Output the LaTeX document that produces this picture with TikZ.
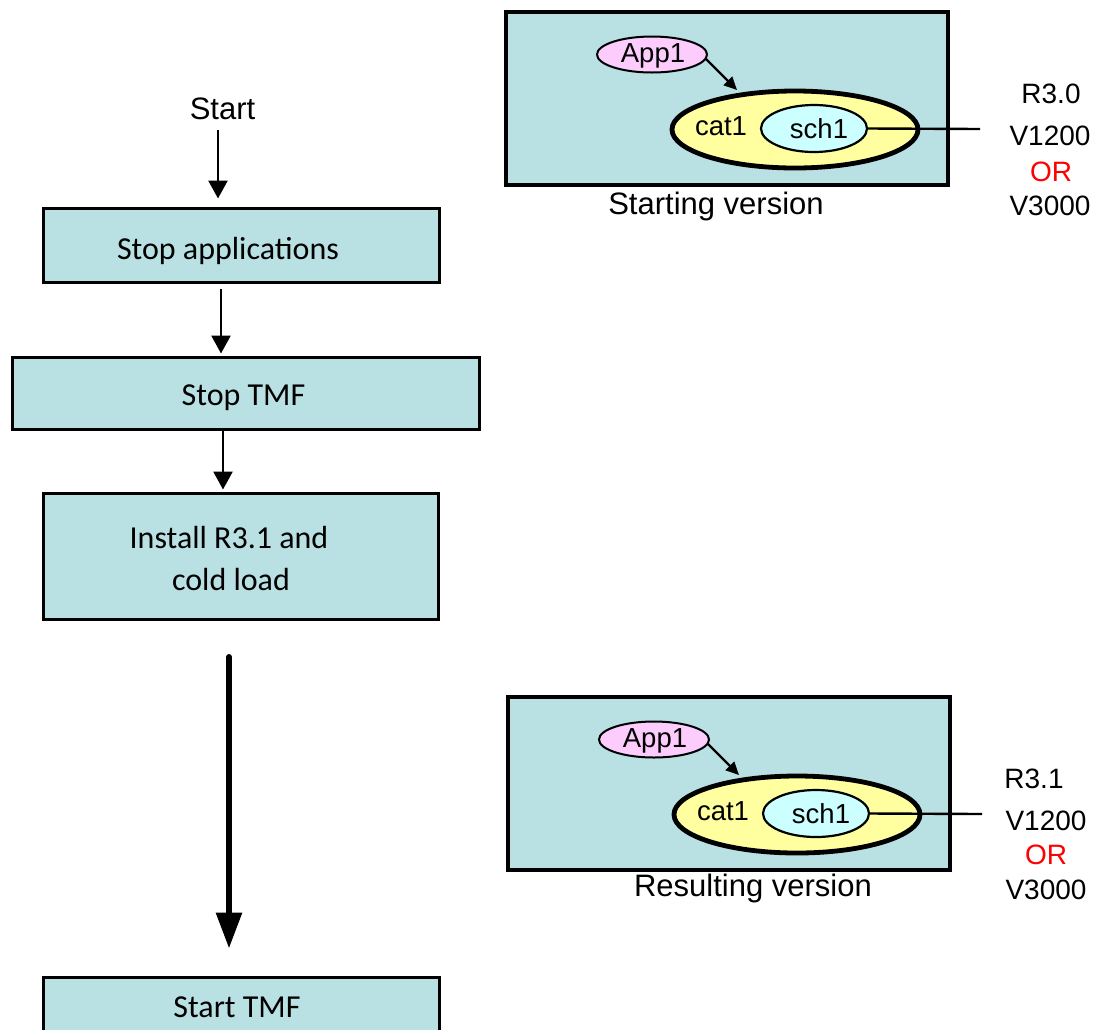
\documentclass[tikz,border=0pt]{standalone}
\usepackage{fontspec}
\setmainfont{Liberation Sans}
\newfontfamily\calibri{Carlito}
\usetikzlibrary{arrows.meta,shapes.geometric}

\definecolor{boxfill}{RGB}{185,224,227}
\definecolor{appfill}{RGB}{252,204,252}
\definecolor{catfill}{RGB}{255,255,160}
\definecolor{schfill}{RGB}{204,255,255}

\tikzset{
  flowbox/.style={draw=black,line width=3pt,fill=boxfill,rectangle,inner sep=0pt},
  caltext/.style={font=\calibri\fontsize{32}{38}\selectfont,inner sep=0pt,anchor=base},
  arialbig/.style={font=\fontsize{31}{37}\selectfont,inner sep=0pt,anchor=base},
  arialmid/.style={font=\fontsize{28}{34}\selectfont,inner sep=0pt,anchor=base},
  arialsmall/.style={font=\fontsize{27.5}{33}\selectfont,inner sep=0pt,anchor=base},
  flowarrow/.style={line width=2.7pt,-{Triangle[width=19pt,length=18pt]}},
  bigarrow/.style={line width=6pt,line cap=round,-{Triangle[width=25pt,length=36pt]}},
  smallarrow/.style={line width=2.2pt,-{Triangle[width=12pt,length=13pt]}},
  panelbox/.style={draw=black,line width=3.2pt,fill=boxfill,rectangle,inner sep=0pt,
    minimum width=442pt,minimum height=173pt},
  appell/.style={ellipse,draw=black,line width=2pt,fill=appfill,inner sep=0pt,
    minimum width=110pt,minimum height=36pt},
  catell/.style={ellipse,draw=black,line width=4.8pt,fill=catfill,inner sep=0pt,
    minimum width=246pt,minimum height=77pt},
  schell/.style={ellipse,draw=black,line width=2.2pt,fill=schfill,inner sep=0pt,
    minimum width=106pt,minimum height=47pt},
  % catalog panel: application, catalog and schema
  catpanel/.pic={
    \node[panelbox] (-box) at (221,86.5) {};
    \node[appell] (-app) at (146,42.5) {};
    \node[arialsmall] (-apptext) at (147,50.7) {App1};
    \node[catell] (-cat) at (289,117.5) {};
    \node[arialsmall] (-cattext) at (215,123) {cat1};
    \node[schell] (-sch) at (308,116.5) {};
    \node[arialsmall] (-schtext) at (313,126.3) {sch1};
    \coordinate (-tip) at (231,78);
    \coordinate (-end) at (474,117);
    \draw[smallarrow] (-app.-5) -- (-tip);
    \draw[line width=2.4pt] (-sch.east) -- (-end);
  }
}

\begin{document}
\begin{tikzpicture}[x=1pt,y=-1pt]
\useasboundingbox (0,0) rectangle (1100,1029);

% flow of steps
\node[arialbig] (start) at (222.5,119) {Start};

\node[flowbox,minimum width=396pt,minimum height=74pt] (b1) at (241,245) {};
\node[caltext] (t1) at (228,259) {Stop applications};

\node[flowbox,minimum width=467pt,minimum height=72pt] (b2) at (245.5,393) {};
\node[caltext] (t2) at (243.5,405) {Stop TMF};

\node[flowbox,minimum width=395pt,minimum height=126pt] (b3) at (240.5,556) {};
\node[caltext] (t3a) at (229,548) {Install R3.1 and};
\node[caltext] (t3b) at (231,590) {cold load};

\node[flowbox,minimum width=396pt,minimum height=63pt] (b4) at (241,1008.5) {};
\node[caltext] (t4) at (237,1017.5) {Start TMF};

% connectors between the steps
\coordinate (a1s) at (218,130);
\draw[flowarrow,shorten >=8pt] (a1s) -- (a1s |- b1.north);
\coordinate (a2s) at (221,289);
\draw[flowarrow,shorten >=2pt] (a2s) -- (a2s |- b2.north);
\coordinate (a3x) at (223,0);
\draw[flowarrow,shorten >=2pt] (a3x |- b2.south) -- (a3x |- b3.north);
\coordinate (bigs) at (229,657);
\draw[bigarrow,shorten >=27pt] (bigs) -- (bigs |- b4.north);

% starting version
\pic (p1) at (506,12) {catpanel};
\node[arialbig] (p1cap) at (716,214) {Starting version};
\node[arialmid] (p1r) at (1051,103) {R3.0};
\node[arialmid] (p1v1) at (1050,145) {V1200};
\node[arialmid,text=red] (p1or) at (1051,181) {OR};
\node[arialmid] (p1v2) at (1050,215) {V3000};

% resulting version
\pic (p2) at (508,697) {catpanel};
\node[arialbig] (p2cap) at (753,896) {Resulting version};
\node[arialmid] (p2r) at (1034,788) {R3.1};
\node[arialmid] (p2v1) at (1046,830) {V1200};
\node[arialmid,text=red] (p2or) at (1046,864) {OR};
\node[arialmid] (p2v2) at (1046,899) {V3000};
\end{tikzpicture}
\end{document}
